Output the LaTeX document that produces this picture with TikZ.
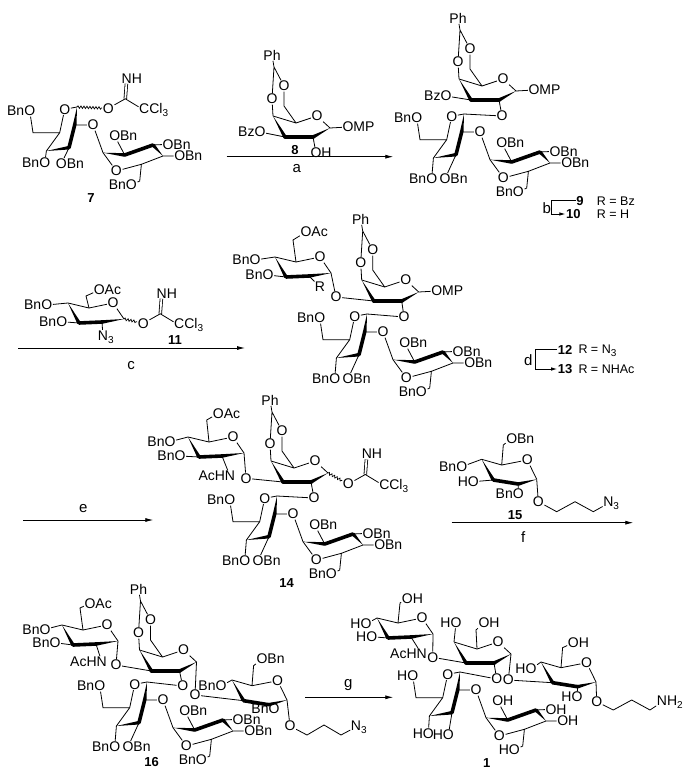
\documentclass[tikz,border=0pt]{standalone}
\usepackage{fontspec}
\setmainfont{Liberation Sans}
\usetikzlibrary{calc,arrows.meta,decorations.pathmorphing}
\newcommand{\mysub}[1]{\raisebox{-0.4ex}{\fontsize{10}{10}\selectfont #1}}
\newcommand{\wdg}[2]{\fill ($(#2)!1.8pt!90:(#1)$) -- (#1) -- ($(#2)!1.8pt!-90:(#1)$) -- cycle;}
\newcommand{\bld}[2]{\draw[line width=3.6pt,line cap=round] (#1) -- (#2);}
\tikzset{
 bond/.style={line width=0.8pt},
 atm/.style={inner sep=0.5pt, font=\fontsize{14}{14}\selectfont},
 cpd/.style={font=\bfseries\fontsize{13}{13}\selectfont, inner sep=0.5pt},
 txt/.style={font=\fontsize{12.5}{12.5}\selectfont, inner sep=0pt},
 rxn/.style={font=\fontsize{15}{15}\selectfont},
 arr/.style={line width=0.8pt, -{Latex[length=8pt,width=4pt]}},
 sarr/.style={line width=0.8pt, -{Latex[length=6pt,width=3.5pt]}},
 wavy/.style={line width=0.7pt, decorate, decoration={snake, amplitude=1.2pt, segment length=3pt}},
}
% disaccharide unit (vertical Gal + lower ring), origin = Gal C1
\newcommand{\dunit}[8]{%
\begin{scope}[shift={(#2,#3)}]
 \coordinate (#1c1) at (0,0);
 \node[atm] (#1o5) at (-12.3,2.3) {O};
 \coordinate (#1c2) at (-2.3,18);
 \coordinate (#1c3) at (-8,40.7);
 \coordinate (#1c4) at (-30.6,44);
 \coordinate (#1c5) at (-17.3,25.7);
 \coordinate (#1c6) at (-44,25.7);
 \node[atm] (#1o6) at (-47.3,4) {#4};
 \node[atm] (#1o4) at #8 {#4};
 \node[atm] (#1o3) at #7 {#6};
 \node[atm] (#1o2) at (16,18) {O};
 \coordinate (#1d1) at (26,45.7);
 \coordinate (#1d2) at (47.7,48);
 \coordinate (#1d3) at (76,38);
 \coordinate (#1d4) at (86,49);
 \coordinate (#1d5) at (64.4,57.3);
 \coordinate (#1d6) at (62.7,74);
 \node[atm] (#1q5) at (39.4,64) {O};
 \node[atm] (#1q2) at (37.7,29) {#5};
 \node[atm] (#1q3) at (91,37.3) {#5};
 \node[atm] (#1q4) at (102.7,49) {#5};
 \node[atm] (#1q6) at (54.4,78) {#4};
\end{scope}
\draw[bond] (#1c1) -- (#1o5) -- (#1c5) -- (#1c4) (#1c5) -- (#1c6) -- (#1o6) (#1c4) -- (#1o4) (#1c3) -- (#1o3) (#1c2) -- (#1o2) -- (#1d1);
\wdg{#1c4}{#1c3}\bld{#1c3}{#1c2}\wdg{#1c1}{#1c2}
\draw[bond] (#1d1) -- (#1q5) -- (#1d5) -- (#1d4) (#1d5) -- (#1d6) -- (#1q6) (#1d2) -- (#1q2) (#1d3) -- (#1q3) (#1d4) -- (#1q4);
\wdg{#1d1}{#1d2}\bld{#1d2}{#1d3}\wdg{#1d4}{#1d3}}
% galacto ring (benzylidene Gal), origin = C4
\newcommand{\galring}[3]{%
\begin{scope}[shift={(#2,#3)}]
 \coordinate (#1c4) at (0,0);
 \coordinate (#1c5) at (23,7);
 \node[atm] (#1o5) at (44,0) {O};
 \coordinate (#1c1) at (57,12);
 \coordinate (#1c2) at (40,21);
 \coordinate (#1c3) at (12,21);
\end{scope}
\draw[bond] (#1c4) -- (#1c5) -- (#1o5) -- (#1c1);
\wdg{#1c4}{#1c3}\bld{#1c3}{#1c2}\wdg{#1c1}{#1c2}}
\newcommand{\benzyl}[3]{%
\begin{scope}[shift={(#2,#3)}]
 \coordinate (#1c6) at (11,-10);
 \node[atm] (#1oa) at (11,-30) {O};
 \node[atm] (#1ob) at (-1,-17) {O};
 \coordinate (#1ac) at (1,-49);
 \node[atm] (#1ph) at (-1,-61) {Ph};
\end{scope}
\draw[bond] (#1c5) -- (#1c6) -- (#1oa) -- (#1ac) -- (#1ob) -- (#1c4) (#1ac) -- (#1ph);}
% glucosamine ring, origin = C4
\newcommand{\glcnring}[3]{%
\begin{scope}[shift={(#2,#3)}]
 \coordinate (#1c4) at (0,0);
 \coordinate (#1c5) at (21,5);
 \node[atm] (#1o5) at (45,0) {O};
 \coordinate (#1c1) at (56,16);
 \coordinate (#1c2) at (34,19);
 \coordinate (#1c3) at (11,20);
\end{scope}
\draw[bond] (#1c4) -- (#1c5) -- (#1o5) -- (#1c1);
\wdg{#1c4}{#1c3}\bld{#1c3}{#1c2}\wdg{#1c1}{#1c2}}
% glucose ring, origin = C4
\newcommand{\glcring}[3]{%
\begin{scope}[shift={(#2,#3)}]
 \coordinate (#1c4) at (0,0);
 \coordinate (#1c5) at (20,5.7);
 \node[atm] (#1o5) at (45.6,0.7) {O};
 \coordinate (#1c1) at (55,20);
 \coordinate (#1c2) at (36.6,24.7);
 \coordinate (#1c3) at (11.6,20.7);
\end{scope}
\draw[bond] (#1c4) -- (#1c5) -- (#1o5) -- (#1c1);
\wdg{#1c4}{#1c3}\bld{#1c3}{#1c2}\wdg{#1c1}{#1c2}}
% trichloroacetimidate, O at (#3,#4)
\newcommand{\imid}[4]{%
\begin{scope}[shift={(#3,#4)}]
 \node[atm] (#1o) at (0,0) {O};
 \coordinate (#1c) at (17,-9.5);
 \node[atm] (#1n) at (18.5,-30) {N\rlap{H}};
 \node[atm] (#1cl) at (36,2) {C\rlap{Cl\mysub{3}}};
\end{scope}
\draw[bond,double,double distance=1.8pt] (#1c) -- (#1n);
\draw[wavy] (#2) -- (#1o);
\draw[bond] (#1o) -- (#1c) -- (#1cl);}
\begin{document}
\begin{tikzpicture}[x=1pt,y=-1pt]
\useasboundingbox (0,0) rectangle (682,770);
\fill[white] (0,0) rectangle (682,770);
% ===== 7
\dunit{s}{77}{107}{\llap{Bn}O}{O\rlap{Bn}}{O\rlap{Bn}}{(-15.6,56.6)}{(-32.3,56)}
\imid{sx}{sc1}{108.3}{108.3}
\node[cpd] (l7) at (91,198) {7};
% ===== arrow a
\coordinate (ara1) at (226.7,156.7); \coordinate (ara2) at (393.3,156.7);
\draw[arr] (ara1) -- (ara2);
\node[rxn] (la) at (296.7,168.3) {a};
% ===== 8
\galring{e}{273}{116}\benzyl{e}{273}{116}
\node[atm] (eO1) at (348,127) {O\rlap{MP}};
\node[atm] (eO3) at (260,132) {\llap{Bz}O};
\node[atm] (eO2) at (316,153) {O\rlap{H}};
\draw[bond] (ec1) -- (eO1) (ec3) -- (eO3) (ec2) -- (eO2);
\node[cpd] (l8) at (295,150) {8};
% ===== 9
\galring{n}{459}{79}\benzyl{n}{459}{79}
\node[atm] (nO1) at (534,90) {O\rlap{MP}};
\node[atm] (nO3) at (446,96) {\llap{Bz}O};
\node[atm] (nO2) at (502,116) {O};
\draw[bond] (nc1) -- (nO1) (nc3) -- (nO3) (nc2) -- (nO2);
\dunit{m}{464}{114}{\llap{Bn}O}{O\rlap{Bn}}{O\rlap{Bn}}{(-19,64.7)}{(-32.3,64.7)}
\draw[bond] (mc1) -- (nO2);
% bracket b
\node[cpd] (l9) at (580,200.7) {9};
\node[txt,anchor=west] (r9) at (596.7,200.7) {R = Bz};
\node[cpd] (l10) at (573.3,214) {10};
\node[txt,anchor=west] (r10) at (596.7,214) {R = H};
\coordinate (kb) at (551.7,200.7);
\draw[sarr] (l9.west) -- (kb) |- (l10.west);
\node[rxn] (lb) at (546.7,208.3) {b};
% ===== 11
\glcnring{q}{68}{303}
\node[atm] (qO4) at (46.7,305) {\llap{Bn}O};
\node[atm] (qO3) at (61.7,321.7) {\llap{Bn}O};
\coordinate (qc6) at (86,296);
\node[atm] (qO6) at (99.3,290) {O\rlap{Ac}};
\node[atm] (qN) at (103,337) {N\rlap{\mysub{3}}};
\draw[bond] (qc4) -- (qO4) (qc3) -- (qO3) (qc5) -- (qc6) -- (qO6) (qc2) -- (qN);
\imid{qx}{qc1}{143.3}{323.3}
\node[cpd] (l11) at (175,340) {11};
% arrow c
\coordinate (arc1) at (18,348); \coordinate (arc2) at (245,348);
\draw[arr] (arc1) -- (arc2);
\node[rxn] (lc) at (131,366) {c};
% ===== 12
\glcnring{g}{275}{257}
\node[atm] (gO4) at (255,260) {\llap{Bn}O};
\node[atm] (gO3) at (268,275) {\llap{Bn}O};
\coordinate (gc6) at (293,240);
\node[atm] (gO6) at (306,232) {O\rlap{Ac}};
\node[atm] (gR) at (320,287) {R};
\node[atm] (gO1) at (336,297) {O};
\draw[bond] (gc4) -- (gO4) (gc3) -- (gO3) (gc5) -- (gc6) -- (gO6) (gc2) -- (gR) (gc1) -- (gO1);
\galring{h}{361.7}{280}\benzyl{h}{361.7}{280}
\node[atm] (hO1) at (436.7,291) {O\rlap{MP}};
\node[atm] (hO2) at (404,317) {O};
\draw[bond] (hc1) -- (hO1) (hc2) -- (hO2) (gO1) -- (hc3);
\dunit{k}{367}{314}{\llap{Bn}O}{O\rlap{Bn}}{O\rlap{Bn}}{(-19,64.7)}{(-32.3,64.7)}
\draw[bond] (kc1) -- (hO2);
% bracket d
\node[cpd] (l12) at (565,349.5) {12};
\node[txt,anchor=west] (r12) at (578.3,350.5) {R = N\mysub{3}};
\node[cpd] (l13) at (565,369) {13};
\node[txt,anchor=west] (r13) at (578.3,369.5) {R = NHAc};
\coordinate (kd) at (535,349.5);
\draw[sarr] (l12.west) -- (kd) |- (l13.west);
\node[rxn] (ld) at (528.3,360) {d};
% arrow e
\coordinate (are1) at (23.3,520); \coordinate (are2) at (153.3,520);
\draw[arr] (are1) -- (are2);
\node[rxn] (le) at (83.3,508.3) {e};
% ===== 14
\glcnring{t}{188}{437}
\node[atm] (tO4) at (170,441.7) {\llap{Bn}O};
\node[atm] (tO3) at (180,456) {\llap{Bn}O};
\coordinate (tc6) at (206.7,420);
\node[atm] (tO6) at (218.3,413.3) {O\rlap{Ac}};
\node[atm] (tN) at (230,476) {\llap{AcH}N};
\node[atm] (tO1) at (246,478.3) {O};
\draw[bond] (tc4) -- (tO4) (tc3) -- (tO3) (tc5) -- (tc6) -- (tO6) (tc2) -- (tN) (tc1) -- (tO1);
\galring{u}{271}{461}\benzyl{u}{271}{461}
\node[atm] (uO2) at (314,498) {O};
\draw[bond] (uc2) -- (uO2) (tO1) -- (uc3);
\imid{ux}{uc1}{348.3}{484}
\dunit{w}{277}{496}{\llap{Bn}O}{O\rlap{Bn}}{O\rlap{Bn}}{(-19,64.7)}{(-32.3,64.7)}
\draw[bond] (wc1) -- (uO2);
\node[cpd] (l14) at (286.7,583.3) {14};
% ===== 15
\glcring{v}{481.7}{459.3}
\coordinate (vc6) at (503.3,445);
\node[atm] (vO6) at (511.7,438.3) {O\rlap{Bn}};
\node[atm] (vO4) at (461.7,466.7) {\llap{Bn}O};
\node[atm] (vO3) at (473.3,481.7) {\llap{H}O};
\node[atm] (vO2) at (518.3,494) {\llap{Bn}O};
\node[atm] (vO1) at (538.3,501.7) {O};
\coordinate (vk1) at (556.7,511.7); \coordinate (vk2) at (575,501.7); \coordinate (vk3) at (593.3,511.7);
\node[atm] (vN) at (608.3,503.3) {N\rlap{\mysub{3}}};
\draw[bond] (vc5) -- (vc6) -- (vO6) (vc4) -- (vO4) (vc3) -- (vO3) (vc2) -- (vO2) (vc1) -- (vO1) -- (vk1) -- (vk2) -- (vk3) -- (vN);
\node[cpd] (l15) at (515,515) {15};
% arrow f
\coordinate (arf1) at (451.7,522.7); \coordinate (arf2) at (633.3,522.7);
\draw[arr] (arf1) -- (arf2);
\node[rxn] (lf) at (523.3,536.7) {f};
% ===== 16
\glcnring{x}{62}{625}
\node[atm] (xO4) at (45,629.3) {\llap{Bn}O};
\node[atm] (xO3) at (55,642.7) {\llap{Bn}O};
\coordinate (xc6) at (80,608);
\node[atm] (xO6) at (90,603.3) {O\rlap{Ac}};
\node[atm] (xN) at (101.7,661.7) {\llap{AcH}N};
\node[atm] (xO1) at (116,665) {O};
\draw[bond] (xc4) -- (xO4) (xc3) -- (xO3) (xc5) -- (xc6) -- (xO6) (xc2) -- (xN) (xc1) -- (xO1);
\galring{y}{139.5}{650}\benzyl{y}{139.5}{650}
\node[atm] (yO2) at (182.7,686) {O};
\node[atm] (yO1) at (195,695) {O};
\draw[bond] (yc2) -- (yO2) (yc1) -- (yO1) (xO1) -- (yc3);
\dunit{z}{147}{682}{\llap{Bn}O}{O\rlap{Bn}}{O\rlap{Bn}}{(-19,64.7)}{(-32.3,64.7)}
\draw[bond] (zc1) -- (yO2);
\glcring{r}{232}{680}
\coordinate (rc6) at (253.6,665.7);
\node[atm] (rO6) at (262,659) {O\rlap{Bn}};
\node[atm] (rO4) at (221,686) {\llap{Bn}O};
\node[atm] (rO2) at (274,708.3) {\llap{Bn}O};
\node[atm] (rO1) at (290,726) {O};
\coordinate (rk1) at (307,735); \coordinate (rk2) at (324,725); \coordinate (rk3) at (341,735);
\node[atm] (rN) at (356,727) {N\rlap{\mysub{3}}};
\draw[bond] (rc5) -- (rc6) -- (rO6) (rc4) -- (rO4) (rc2) -- (rO2) (rc1) -- (rO1) -- (rk1) -- (rk2) -- (rk3) -- (rN) (yO1) -- (rc3);
\node[cpd] (l16) at (151.7,762.5) {16};
% arrow g
\coordinate (arg1) at (305,697.3); \coordinate (arg2) at (393.3,697.3);
\draw[arr] (arg1) -- (arg2);
\node[rxn] (lg) at (348.3,685) {g};
% ===== 1
\glcnring{a}{377}{618}
\node[atm] (aO4) at (366,624) {\llap{H}O};
\node[atm] (aO3) at (371.7,636.7) {\llap{H}O};
\coordinate (ac6) at (400,603);
\node[atm] (aO6) at (407.3,598.3) {O\rlap{H}};
\node[atm] (aN) at (421.7,654) {\llap{AcH}N};
\node[atm] (aO1) at (432.7,657.3) {O};
\draw[bond] (ac4) -- (aO4) (ac3) -- (aO3) (ac5) -- (ac6) -- (aO6) (ac2) -- (aN) (ac1) -- (aO1);
\galring{b}{454}{642}
\node[atm] (bO4) at (456,622.7) {\llap{H}O};
\coordinate (bc6) at (476,630);
\node[atm] (bO6) at (484,622.7) {O\rlap{H}};
\node[atm] (bO2) at (496.7,679) {O};
\node[atm] (bO1) at (508.3,680) {O};
\draw[bond] (bc4) -- (bO4) (bc5) -- (bc6) -- (bO6) (bc2) -- (bO2) (bc1) -- (bO1) (aO1) -- (bc3);
\dunit{c}{460}{672}{\llap{H}O}{O\rlap{H}}{\llap{H}O}{(-11.7,63)}{(-31.7,61.3)}
\draw[bond] (cc1) -- (bO2);
\glcring{f}{541}{662}
\coordinate (fc6) at (562.6,647.7);
\node[atm] (fO6) at (573.3,642.7) {O\rlap{H}};
\node[atm] (fO4) at (531,669) {\llap{H}O};
\node[atm] (fO2) at (577,697) {\llap{H}O};
\node[atm] (fO1) at (596.7,701.7) {O};
\coordinate (fk1) at (613.3,710); \coordinate (fk2) at (631.7,700); \coordinate (fk3) at (650,710);
\node[atm] (fN) at (662,702) {N\rlap{H\mysub{2}}};
\draw[bond] (fc5) -- (fc6) -- (fO6) (fc4) -- (fO4) (fc2) -- (fO2) (fc1) -- (fO1) -- (fk1) -- (fk2) -- (fk3) -- (fN) (bO1) -- (fc3);
\node[cpd] (l1) at (486.7,763.3) {1};
\end{tikzpicture}
\end{document}
